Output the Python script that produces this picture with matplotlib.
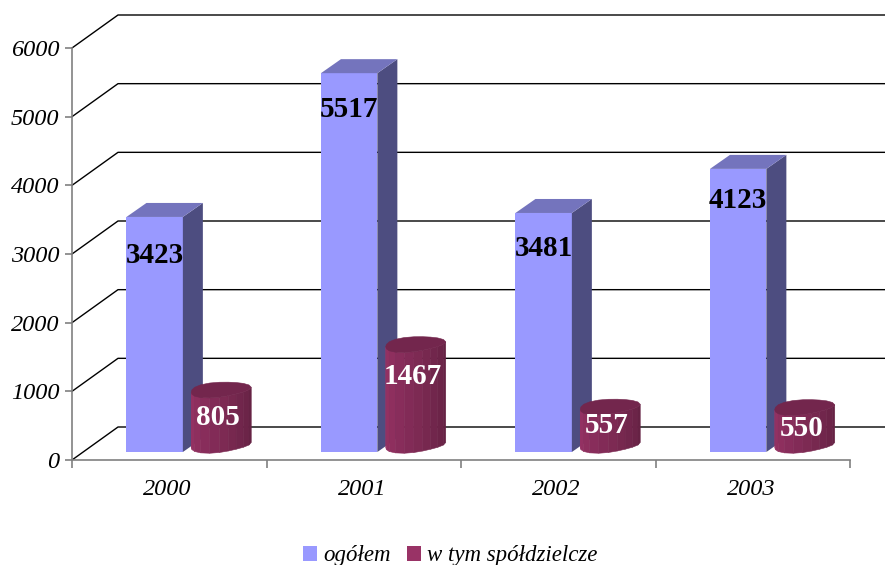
import matplotlib
matplotlib.use("Agg")
import matplotlib.pyplot as plt
import numpy as np
from matplotlib.patches import Patch, Polygon

years = ["2000", "2001", "2002", "2003"]
ogolem = [3423, 5517, 3481, 4123]
spoldzielcze = [805, 1467, 557, 550]
y_ticks = [0, 1000, 2000, 3000, 4000, 5000, 6000]

# label offsets below the top of each mark, in pixels
ogolem_label_drop = [39, 36, 36, 32]
spold_label_drop = [28, 32, 19, 21]

W, H = 885, 565
plt.rcParams["font.family"] = ["Liberation Serif", "DejaVu Serif"]

fig = plt.figure(figsize=(W / 100, H / 100), dpi=100)
ax = fig.add_axes([72 / W, (H - 460) / H, (850 - 72) / W, (460 - 48) / H])
ax.set_xlim(0, 4)
ax.set_ylim(0, 6000)

px_x = (850 - 72) / 4
px_y = (460 - 48) / 6000


def shift(x, y, dx, dy):
    # move a data point by a number of pixels
    return x + dx / px_x, y + dy / px_y


# walls
for v in y_ticks:
    xa, ya = shift(0, v, 0, 0)
    xb, yb = shift(0, v, 46, 33)
    xc, yc = shift(0, v, 813, 33)
    ax.plot([xa, xb, xc], [ya, yb, yc], color="black", lw=1.0, clip_on=False, zorder=1)


def draw_bar(x, w, v):
    x0, y0 = shift(x, 0, 0, 8)
    x1, y1 = shift(x + w, v, 0, 8)
    ddx, ddy = 20 / px_x, 14 / px_y
    ax.add_patch(Polygon([(x0, y0), (x1, y0), (x1, y1), (x0, y1)], fc="#9999ff", ec="none", zorder=3))
    ax.add_patch(Polygon([(x1, y0), (x1 + ddx, y0 + ddy), (x1 + ddx, y1 + ddy), (x1, y1)], fc="#4d4d80", ec="none", zorder=3))
    ax.add_patch(Polygon([(x0, y1), (x1, y1), (x1 + ddx, y1 + ddy), (x0 + ddx, y1 + ddy)], fc="#7474bd", ec="none", zorder=3))


def ring(cx, v, t):
    # low-poly tilted ellipse, a bit lumpy like the original
    a, b, tilt = 30, 7.5, 2.5
    lump = 1 + 0.06 * np.cos(3 * t)
    dx = a * np.cos(t) * lump
    dy = 15 + b * np.sin(t) * lump + tilt * np.cos(t)
    return shift(cx, v, dx, dy)


def draw_cyl(cx, v):
    c0 = np.array([0x99, 0x33, 0x66]) / 255
    c1 = np.array([0x66, 0x22, 0x44]) / 255
    t = np.linspace(np.pi, 2 * np.pi, 11)
    for i in range(len(t) - 1):
        xb, yb = ring(cx, 0, t[i:i + 2])
        xt, yt = ring(cx, v, t[i:i + 2])
        col = c0 + (c1 - c0) * i / (len(t) - 2)
        pts = [(xb[0], yb[0]), (xb[1], yb[1]), (xt[1], yt[1]), (xt[0], yt[0])]
        ax.add_patch(Polygon(pts, fc=col, ec=col, lw=0.4, zorder=4))
    xt, yt = ring(cx, v, np.linspace(0, 2 * np.pi, 21))
    ax.add_patch(Polygon(np.c_[xt, yt], fc="#73264d", ec="#73264d", lw=0.4, zorder=5))


for i, year in enumerate(years):
    draw_bar(i + 0.28, 0.29, ogolem[i])
    ax.annotate(str(ogolem[i]), (i + 0.28 + 0.145, ogolem[i]), xytext=(0, 8 - ogolem_label_drop[i]),
                textcoords="offset pixels", ha="center", va="center", fontsize=21,
                fontweight="bold", color="black", zorder=6, annotation_clip=False)
    draw_cyl(i + 0.758, spoldzielcze[i])
    ax.annotate(str(spoldzielcze[i]), (i + 0.75, spoldzielcze[i]), xytext=(0, 15 - spold_label_drop[i]),
                textcoords="offset pixels", ha="center", va="center", fontsize=21,
                fontweight="bold", color="white", zorder=6, annotation_clip=False)

for side in ["top", "right"]:
    ax.spines[side].set_visible(False)
for side in ["left", "bottom"]:
    ax.spines[side].set_color("#808080")
    ax.spines[side].set_linewidth(1.2)
    ax.spines[side].set_zorder(2)
ax.patch.set_visible(False)

ax.set_yticks(y_ticks)
ax.set_yticklabels([str(v) for v in y_ticks], fontsize=17.5, fontstyle="italic")
ax.set_xticks(range(5))
ax.set_xticklabels([])
ax.tick_params(axis="y", length=5, width=1.2, color="#808080", pad=4)
ax.tick_params(axis="x", length=6, width=1.2, color="#808080")

ax.set_xticks(np.arange(4) + 0.49, minor=True)
ax.set_xticklabels(years, minor=True, fontsize=17.5, fontstyle="italic")
ax.tick_params(axis="x", which="minor", length=0, pad=14)

handles = [Patch(fc="#9999ff", label="ogółem"), Patch(fc="#993366", label="w tym spółdzielcze")]
fig.legend(handles=handles, loc="center", bbox_to_anchor=(450 / W, 1 - 556 / H), ncol=2, frameon=False,
           prop={"size": 16.5, "style": "italic"}, handlelength=0.61, handleheight=0.61,
           handletextpad=0.26, columnspacing=0.7, borderpad=0)

fig.savefig("out.png", dpi=100)
